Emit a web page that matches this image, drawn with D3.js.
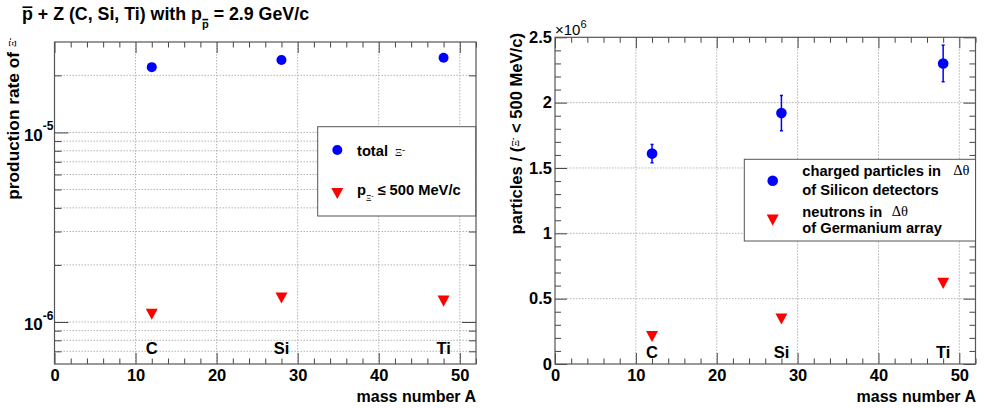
<!DOCTYPE html>
<html><head><meta charset="utf-8">
<script src="https://cdn.jsdelivr.net/npm/d3@7"></script>
<style>
body{margin:0;background:#fff;}
svg{display:block;font-family:"Liberation Sans",Arial,Helvetica,sans-serif;font-weight:bold;}
</style></head><body>
<svg id="c" width="984" height="408"></svg>
<script>
// ---------- data ----------
const massNumbers = [12, 28, 48];
const elements = ["C", "Si", "Ti"];
const totalXi = [2.21e-5, 2.41e-5, 2.48e-5];          // left: total Xi- production rate
const lowMomentumXi = [1.10e-6, 1.34e-6, 1.29e-6];    // left: p_Xi <= 500 MeV/c
const chargedParticles = [1.61e6, 1.92e6, 2.30e6];    // right: charged particles in dtheta of Si detectors
const chargedErrors = [0.07e6, 0.135e6, 0.14e6];
const neutrons = [0.212e6, 0.346e6, 0.618e6];         // right: neutrons in dtheta of Ge array
const xTicks = [0, 10, 20, 30, 40, 50];
const xMinorTicks = [2, 4, 6, 8, 12, 14, 16, 18, 22, 24, 26, 28, 32, 34, 36, 38, 42, 44, 46, 48, 52];
const logMajorTicks = [1e-6, 1e-5];
const logExponents = ["-6", "-5"];
const logMinorTicks = [7e-7, 8e-7, 9e-7, 2e-6, 3e-6, 4e-6, 5e-6, 6e-6, 7e-6, 8e-6, 9e-6, 2e-5];
const linMajorTicks = [0, 0.5e6, 1e6, 1.5e6, 2e6, 2.5e6];
const linTickLabels = ["0", "0.5", "1", "1.5", "2", "2.5"];
const linMinorTicks = [0.1e6,0.2e6,0.3e6,0.4e6,0.6e6,0.7e6,0.8e6,0.9e6,1.1e6,1.2e6,1.3e6,1.4e6,1.6e6,1.7e6,1.8e6,1.9e6,2.1e6,2.2e6,2.3e6,2.4e6];

// ---------- setup ----------
const svg = d3.select("#c");
svg.append("rect").attr("width", 984).attr("height", 408).attr("fill", "#fff");
const BLUE = "#0000ff", RED = "#ff0000";
const TICKFS = 16.5;
const SERIF = "'Liberation Serif','DejaVu Serif',serif";

const L = {x0: 54.5, x1: 476, y0: 42, y1: 364};
const R = {x0: 555, x1: 975.5, y0: 37.3, y1: 364};
const xL = d3.scaleLinear().domain([0, 52]).range([L.x0, L.x1]);
const yL = d3.scaleLog().domain([6e-7, 3e-5]).range([L.y1, L.y0]);
const xR = d3.scaleLinear().domain([0, 52]).range([R.x0, R.x1]);
const yR = d3.scaleLinear().domain([0, 2.5e6]).range([R.y1, R.y0]);

function styleAxis(g) {
  g.attr("font-family", null).attr("font-size", null);
  g.select(".domain").remove();
  g.selectAll(".tick line").attr("stroke", "#444").attr("stroke-width", 1);
  g.selectAll(".tick text").attr("fill", "#000").attr("font-size", TICKFS).attr("font-weight", "bold");
  return g;
}

function grid(P, xs, ys, xVals, yVals) {
  const g = svg.append("g").attr("stroke", "#b4b4b4").attr("stroke-width", 1).attr("stroke-dasharray", "1.5,1.5");
  g.selectAll("line.v").data(xVals).join("line")
    .attr("x1", d => xs(d)).attr("x2", d => xs(d)).attr("y1", P.y0).attr("y2", P.y1);
  g.selectAll("line.h").data(yVals).join("line")
    .attr("y1", d => ys(d)).attr("y2", d => ys(d)).attr("x1", P.x0).attr("x2", P.x1);
}

function xAxes(P, xs, pad) {
  styleAxis(svg.append("g").attr("transform", `translate(0,${P.y1})`)
    .call(d3.axisBottom(xs).tickValues(xTicks).tickSize(-11).tickPadding(pad).tickFormat(d3.format("d"))));
  styleAxis(svg.append("g").attr("transform", `translate(0,${P.y1})`)
    .call(d3.axisBottom(xs).tickValues(xMinorTicks).tickSize(-5.5).tickFormat("")));
  styleAxis(svg.append("g").attr("transform", `translate(0,${P.y0})`)
    .call(d3.axisTop(xs).tickValues(xTicks).tickSize(-11).tickFormat("")));
  styleAxis(svg.append("g").attr("transform", `translate(0,${P.y0})`)
    .call(d3.axisTop(xs).tickValues(xMinorTicks).tickSize(-5.5).tickFormat("")));
}

function frame(P) {
  svg.append("rect").attr("x", P.x0).attr("y", P.y0).attr("width", P.x1 - P.x0).attr("height", P.y1 - P.y0)
    .attr("fill", "none").attr("stroke", "#555").attr("stroke-width", 1.2);
}

function triDown(x, y, s) {
  return `M${x - s},${y - s * 0.9}L${x + s},${y - s * 0.9}L${x},${y + s * 0.95}Z`;
}

// ================= LEFT PANEL =================
grid(L, xL, yL, xTicks.filter(v => v > 0), logMinorTicks.concat(logMajorTicks));
xAxes(L, xL, 5);
{
  const gl = styleAxis(svg.append("g").attr("transform", `translate(${L.x0},0)`)
    .call(d3.axisLeft(yL).tickValues(logMajorTicks).tickSize(-14).tickPadding(1).tickFormat(() => "10")));
  gl.selectAll(".tick text").attr("font-size", 17).attr("dy", "0.45em").each(function(d, i) {
    d3.select(this).append("tspan").attr("font-size", 12).attr("dy", "-0.85em").text(logExponents[i]);
  });
  styleAxis(svg.append("g").attr("transform", `translate(${L.x0},0)`)
    .call(d3.axisLeft(yL).tickValues(logMinorTicks).tickSize(-7).tickFormat("")));
  styleAxis(svg.append("g").attr("transform", `translate(${L.x1},0)`)
    .call(d3.axisRight(yL).tickValues(logMajorTicks).tickSize(-14).tickFormat("")));
  styleAxis(svg.append("g").attr("transform", `translate(${L.x1},0)`)
    .call(d3.axisRight(yL).tickValues(logMinorTicks).tickSize(-7).tickFormat("")));
}
frame(L);

// element labels
svg.append("g").selectAll("text").data(elements).join("text")
  .attr("x", (d, i) => xL(massNumbers[i])).attr("y", 353.5).attr("text-anchor", "middle")
  .attr("font-size", TICKFS).text(d => d);

// markers
svg.append("g").selectAll("circle").data(totalXi).join("circle")
  .attr("cx", (d, i) => xL(massNumbers[i])).attr("cy", d => yL(d)).attr("r", 5).attr("fill", BLUE);
svg.append("g").selectAll("path").data(lowMomentumXi).join("path")
  .attr("d", (d, i) => triDown(xL(massNumbers[i]), yL(d), 6)).attr("fill", RED);

// legend left
{
  const g = svg.append("g");
  g.append("rect").attr("x", 317.7).attr("y", 126.7).attr("width", 158).attr("height", 89.3)
    .attr("fill", "#fff").attr("stroke", "#555").attr("stroke-width", 1);
  g.append("circle").attr("cx", 337.3).attr("cy", 150).attr("r", 5).attr("fill", BLUE);
  g.append("path").attr("d", triDown(337.3, 193.3, 6)).attr("fill", RED);
  const t1 = g.append("text").attr("x", 357).attr("y", 156).attr("font-size", 14.7);
  t1.append("tspan").text("total ");
  t1.append("tspan").attr("dx", 3).attr("font-family", SERIF).attr("font-weight", "normal").attr("font-size", 11).text("Ξ");
  t1.append("tspan").attr("font-size", 8).attr("dy", -4).text("-");
  const t2 = g.append("text").attr("x", 357).attr("y", 195).attr("font-size", 14.7);
  t2.append("tspan").text("p");
  t2.append("tspan").attr("font-family", SERIF).attr("font-weight", "normal").attr("font-size", 8.5).attr("dy", 6).text("Ξ");
  t2.append("tspan").attr("font-size", 6).attr("dy", -3).text("-");
  t2.append("tspan").attr("dy", -3).attr("dx", 4).text("≤ 500 MeV/c");
}

// axis titles left
svg.append("text").attr("x", 476).attr("y", 402).attr("text-anchor", "end").attr("font-size", 16).text("mass number A");
{
  const t = svg.append("text").attr("transform", "translate(19,38) rotate(-90)").attr("text-anchor", "end").attr("font-size", 17.3);
  t.append("tspan").text("production rate of ");
  t.append("tspan").attr("font-family", SERIF).attr("font-weight", "normal").attr("font-size", 10.5).attr("dy", -3).text("Ξ");
  t.append("tspan").attr("font-size", 7).attr("dy", -4).text("-");
}

// title
{
  const fs = 17.8;
  const t = svg.append("text").attr("x", 22).attr("y", 19.5).attr("font-size", fs);
  t.append("tspan").text("p + Z (C, Si, Ti) with p");
  t.append("tspan").attr("font-size", 11).attr("dy", 8.5).text("p");
  t.append("tspan").attr("dy", -8.5).text(" = 2.9 GeV/c");
  const node = t.node();
  const bars = [[0, 19.5 - 0.72 * fs + 0.5], [24, 28 - 0.72 * 11 - 0.5]];
  bars.forEach(([ci, yb]) => {
    const s = node.getStartPositionOfChar(ci), e = node.getEndPositionOfChar(ci);
    svg.append("line").attr("x1", s.x + 0.5).attr("x2", e.x - 0.5).attr("y1", yb).attr("y2", yb)
      .attr("stroke", "#000").attr("stroke-width", 1.6);
  });
}

// ================= RIGHT PANEL =================
grid(R, xR, yR, xTicks.filter(v => v > 0), linMajorTicks.filter(v => v > 0 && v < 2.5e6));
xAxes(R, xR, 5);
{
  styleAxis(svg.append("g").attr("transform", `translate(${R.x0},0)`)
    .call(d3.axisLeft(yR).tickValues(linMajorTicks).tickSize(-12).tickPadding(3).tickFormat((d, i) => linTickLabels[i])));
  styleAxis(svg.append("g").attr("transform", `translate(${R.x0},0)`)
    .call(d3.axisLeft(yR).tickValues(linMinorTicks).tickSize(-6).tickFormat("")));
  styleAxis(svg.append("g").attr("transform", `translate(${R.x1},0)`)
    .call(d3.axisRight(yR).tickValues(linMajorTicks).tickSize(-12).tickFormat("")));
  styleAxis(svg.append("g").attr("transform", `translate(${R.x1},0)`)
    .call(d3.axisRight(yR).tickValues(linMinorTicks).tickSize(-6).tickFormat("")));
}
frame(R);

// x10^6
{
  const t = svg.append("text").attr("x", 555).attr("y", 35).attr("font-size", 15).attr("font-weight", "normal");
  t.append("tspan").text("×10");
  t.append("tspan").attr("font-size", 11).attr("dy", -7).text("6");
}

svg.append("g").selectAll("text").data(elements).join("text")
  .attr("x", (d, i) => xR(massNumbers[i])).attr("y", 357.5).attr("text-anchor", "middle")
  .attr("font-size", TICKFS).text(d => d);

// error bars
{
  const g = svg.append("g").attr("stroke", BLUE).attr("stroke-width", 1.5);
  g.selectAll("line.e").data(chargedParticles).join("line")
    .attr("x1", (d, i) => xR(massNumbers[i])).attr("x2", (d, i) => xR(massNumbers[i]))
    .attr("y1", (d, i) => yR(d - chargedErrors[i])).attr("y2", (d, i) => yR(d + chargedErrors[i]));
  ["lo", "hi"].forEach(k => {
    g.selectAll("line.c" + k).data(chargedParticles).join("line")
      .attr("x1", (d, i) => xR(massNumbers[i]) - 1.5).attr("x2", (d, i) => xR(massNumbers[i]) + 1.5)
      .attr("y1", (d, i) => yR(k === "lo" ? d - chargedErrors[i] : d + chargedErrors[i]))
      .attr("y2", (d, i) => yR(k === "lo" ? d - chargedErrors[i] : d + chargedErrors[i]));
  });
}
svg.append("g").selectAll("circle").data(chargedParticles).join("circle")
  .attr("cx", (d, i) => xR(massNumbers[i])).attr("cy", d => yR(d)).attr("r", 5.3).attr("fill", BLUE);
svg.append("g").selectAll("path").data(neutrons).join("path")
  .attr("d", (d, i) => triDown(xR(massNumbers[i]), yR(d), 6)).attr("fill", RED);

// legend right
{
  const g = svg.append("g");
  g.append("rect").attr("x", 744.3).attr("y", 159.3).attr("width", 231.2).attr("height", 81.7)
    .attr("fill", "#fff").attr("stroke", "#555").attr("stroke-width", 1);
  g.append("circle").attr("cx", 772.7).attr("cy", 180.7).attr("r", 5.3).attr("fill", BLUE);
  g.append("path").attr("d", triDown(772.7, 220, 6)).attr("fill", RED);
  const lines = [
    {y: 175.7, text: "charged particles in", dt: 953.3},
    {y: 194.5, text: "of Silicon detectors"},
    {y: 216.5, text: "neutrons in", dt: 891.7},
    {y: 232.5, text: "of Germanium array"}
  ];
  lines.forEach(l => {
    g.append("text").attr("x", 802.3).attr("y", l.y).attr("font-size", 14.7).text(l.text);
    if (l.dt) g.append("text").attr("x", l.dt).attr("y", l.y - 1).attr("font-size", 14.5)
      .attr("font-family", SERIF).attr("font-weight", "normal").text("Δθ");
  });
}

// axis titles right
svg.append("text").attr("x", 976).attr("y", 402).attr("text-anchor", "end").attr("font-size", 16).text("mass number A");
{
  const t = svg.append("text").attr("transform", "translate(522,33) rotate(-90)").attr("text-anchor", "end").attr("font-size", 16.6);
  t.append("tspan").text("particles / (");
  t.append("tspan").attr("font-family", SERIF).attr("font-weight", "normal").attr("font-size", 10.5).attr("dy", -3).text("Ξ");
  t.append("tspan").attr("font-size", 7).attr("dy", -4).text("-");
  t.append("tspan").attr("dy", 7).text(" < 500 MeV/c)");
}
</script>
</body></html>
